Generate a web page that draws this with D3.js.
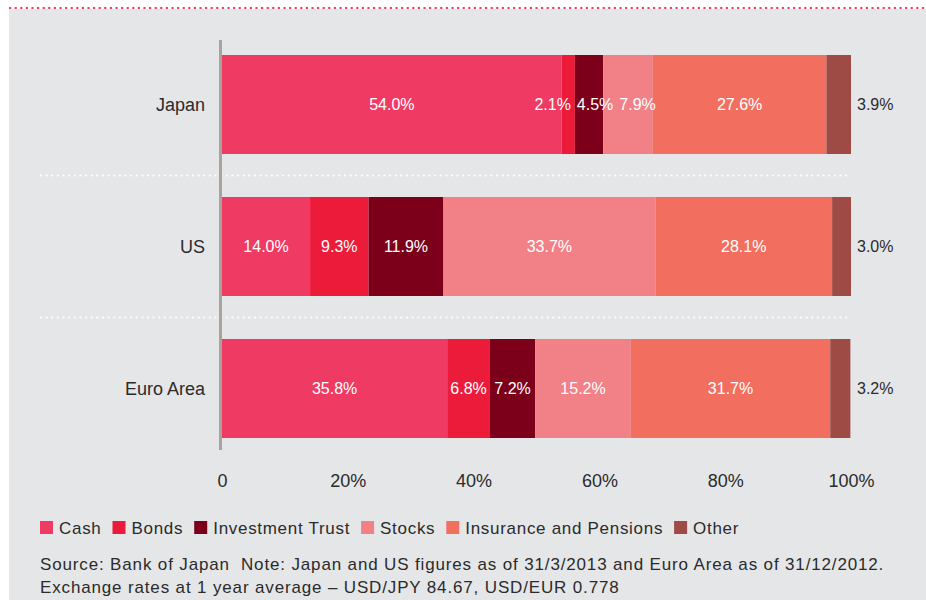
<!DOCTYPE html>
<html>
<head>
<meta charset="utf-8">
<script src="https://cdn.jsdelivr.net/npm/d3@7"></script>
<style>
  html, body { margin: 0; padding: 0; background: #ffffff; }
  svg { display: block; }
  text { font-family: "Liberation Sans", Arial, Helvetica, sans-serif; white-space: pre; }
</style>
</head>
<body>
<svg id="chart" width="926" height="600"></svg>
<script>
// ---- data ----
const categories = ["Japan", "US", "Euro Area"];
const seriesNames = ["Cash", "Bonds", "Investment Trust", "Stocks", "Insurance and Pensions", "Other"];
const seriesColors = ["#ef3b63", "#ed1b3a", "#7c0019", "#f28087", "#f26f5f", "#9e4a45"];
const japanValues = [54.0, 2.1, 4.5, 7.9, 27.6, 3.9];
const usValues = [14.0, 9.3, 11.9, 33.7, 28.1, 3.0];
const euroValues = [35.8, 6.8, 7.2, 15.2, 31.7, 3.2];
const tickValues = [0, 20, 40, 60, 80, 100];
const tickLabels = ["0", "20%", "40%", "60%", "80%", "100%"];
const sourceLines = [
  "Source: Bank of Japan  Note: Japan and US figures as of 31/3/2013 and Euro Area as of 31/12/2012.",
  "Exchange rates at 1 year average \u2013 USD/JPY 84.67, USD/EUR 0.778"
];

const valuesByCategory = [japanValues, usValues, euroValues];

// ---- build table ----
const table = categories.map((c, i) => {
  const row = { category: c };
  seriesNames.forEach((s, j) => row[s] = valuesByCategory[i][j]);
  return row;
});
const stacked = d3.stack().keys(seriesNames)(table);

const svg = d3.select("#chart");
const W = 926, H = 600;

// background panel
svg.append("rect").attr("x", 9).attr("y", 9).attr("width", W - 9).attr("height", H - 9).attr("fill", "#e5e6e8");
// top pink dotted line
svg.append("line").attr("x1", 9).attr("x2", W).attr("y1", 8).attr("y2", 8)
  .attr("stroke", "#f0406a").attr("stroke-width", 2.2).attr("stroke-dasharray", "2.2 3.4");

// scales
const x = d3.scaleLinear().domain([0, 100]).range([222, 851]);
const y = d3.scaleBand().domain(categories).range([33.5, 459.5])
  .paddingInner(43 / 142).paddingOuter(43 / 284);
const color = d3.scaleOrdinal().domain(seriesNames).range(seriesColors);

// separators between bands
const sepY = categories.slice(1).map(c => y(c) - (y.step() - y.bandwidth()) / 2);
svg.selectAll("line.sep").data(sepY).join("line").attr("class", "sep")
  .attr("x1", 41).attr("x2", 851).attr("y1", d => d).attr("y2", d => d)
  .attr("stroke", "#ffffff").attr("stroke-width", 2.2).attr("stroke-linecap", "round")
  .attr("stroke-dasharray", "0.01 5.62");

// bars
const layers = svg.append("g").selectAll("g").data(stacked).join("g")
  .attr("fill", d => color(d.key));
layers.selectAll("rect").data(d => d).join("rect")
  .attr("x", d => x(d[0]))
  .attr("y", d => y(d.data.category))
  .attr("width", d => x(d[1]) - x(d[0]))
  .attr("height", y.bandwidth());

// vertical axis line
svg.append("line").attr("x1", 220.5).attr("x2", 220.5).attr("y1", 40).attr("y2", 450)
  .attr("stroke", "#aaa29d").attr("stroke-width", 3);

// category labels
svg.append("g").selectAll("text").data(categories).join("text")
  .attr("x", 205).attr("y", d => y(d) + y.bandwidth() / 2)
  .attr("dy", "0.35em").attr("text-anchor", "end")
  .attr("font-size", 18).attr("fill", "#2b2b2b").text(d => d);

// value labels inside bars (with simple collision relaxation)
const labelFont = 16;
const labelGroup = svg.append("g");
categories.forEach((cat, ci) => {
  const items = [];
  stacked.forEach((layer, si) => {
    if (si === seriesNames.length - 1) return; // "Other" is labelled outside
    const seg = layer[ci];
    items.push({ text: valuesByCategory[ci][si].toFixed(1) + "%", cx: (x(seg[0]) + x(seg[1])) / 2 });
  });
  items.forEach(it => {
    const t = labelGroup.append("text").attr("font-size", labelFont).text(it.text);
    it.w = t.node().getComputedTextLength();
    t.remove();
  });
  for (let iter = 0; iter < 50; iter++) {
    for (let k = 1; k < items.length; k++) {
      const a = items[k - 1], b = items[k];
      const need = (a.w + b.w) / 2 + 6;
      const gap = b.cx - a.cx;
      if (gap < need) {
        const push = (need - gap) / 2;
        a.cx -= push; b.cx += push;
      }
    }
  }
  labelGroup.selectAll(null).data(items).join("text")
    .attr("x", d => d.cx).attr("y", y(cat) + y.bandwidth() / 2)
    .attr("dy", "0.35em").attr("text-anchor", "middle")
    .attr("font-size", labelFont).attr("fill", "#ffffff").text(d => d.text);
  const last = valuesByCategory[ci][seriesNames.length - 1];
  labelGroup.append("text")
    .attr("x", x(100) + 6).attr("y", y(cat) + y.bandwidth() / 2)
    .attr("dy", "0.35em").attr("font-size", labelFont).attr("fill", "#2b2b2b")
    .text(last.toFixed(1) + "%");
});

// x axis
const xAxis = d3.axisBottom(x).tickValues(tickValues).tickSize(0).tickPadding(14)
  .tickFormat((d, i) => tickLabels[i]);
const ax = svg.append("g").attr("transform", "translate(0,460)").call(xAxis);
ax.select(".domain").remove();
ax.selectAll("text").attr("font-size", 18).attr("fill", "#2b2b2b")
  .attr("font-family", "Liberation Sans, Arial, sans-serif");

// legend
const legend = svg.append("g").attr("transform", "translate(40,521)");
let lx = 0;
seriesNames.forEach((s, i) => {
  legend.append("rect").attr("x", lx).attr("y", 0).attr("width", 13).attr("height", 13).attr("fill", seriesColors[i]);
  const t = legend.append("text").attr("x", lx + 19).attr("y", 12.5)
    .attr("font-size", 17).attr("letter-spacing", 0.7).attr("fill", "#2b2b2b").text(s);
  lx += 19 + t.node().getComputedTextLength() + 11;
});

// source notes
svg.append("g").selectAll("text").data(sourceLines).join("text")
  .attr("x", 40).attr("y", (d, i) => 570 + i * 23)
  .attr("font-size", 17).attr("letter-spacing", 0.85).attr("fill", "#2b2b2b").text(d => d);
</script>
</body>
</html>
